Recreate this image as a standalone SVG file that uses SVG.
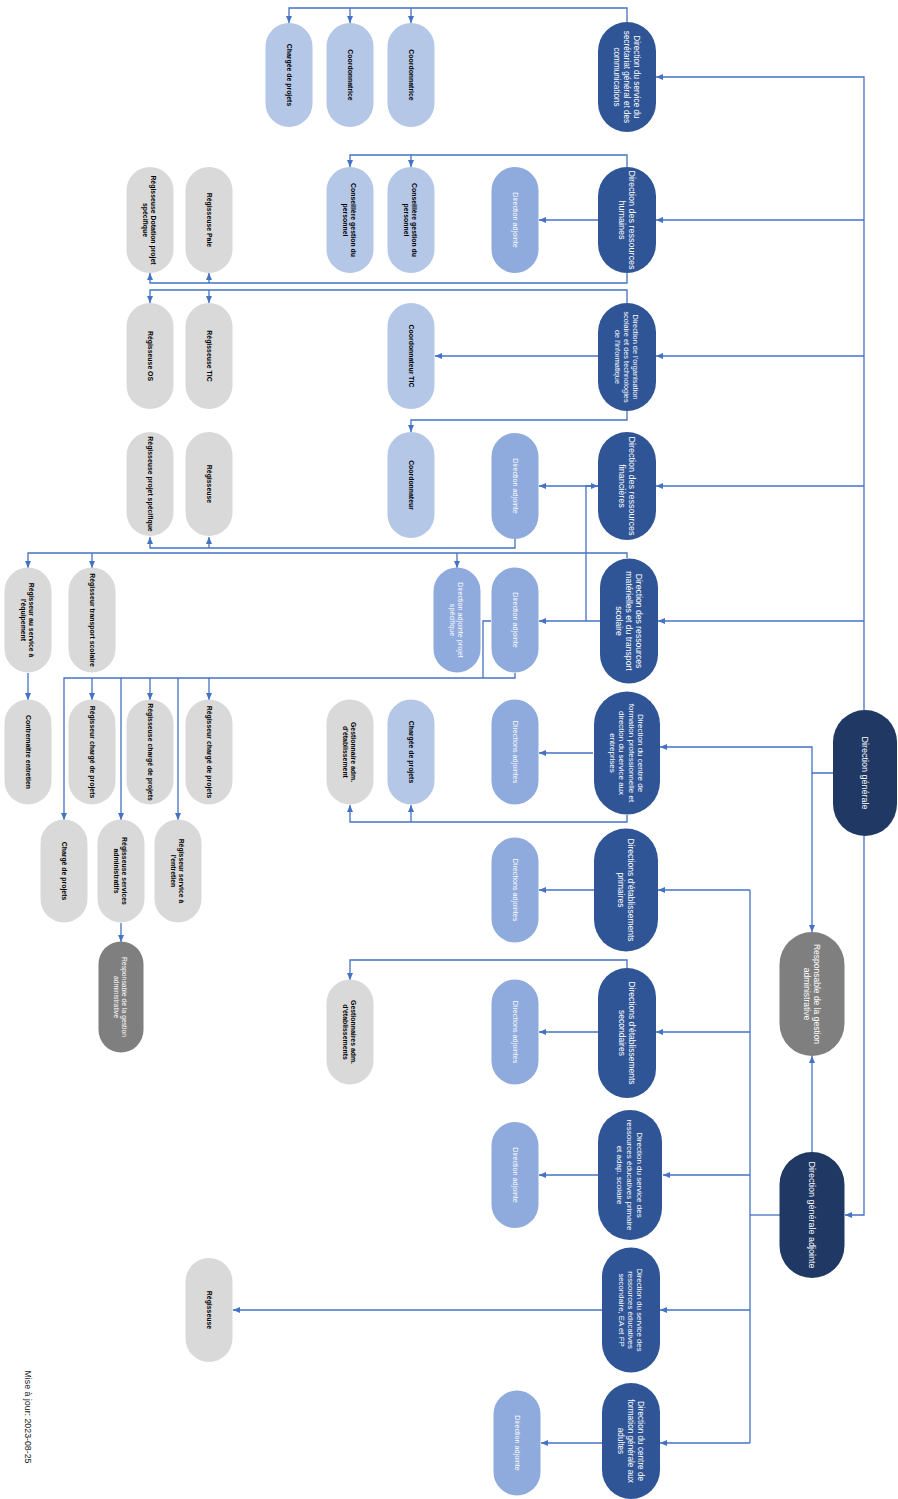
<svg xmlns="http://www.w3.org/2000/svg" width="898" height="1499" viewBox="0 0 898 1499">
<defs>
<marker id="ar" viewBox="0 0 7 6" refX="7" refY="3" markerWidth="7" markerHeight="6" markerUnits="userSpaceOnUse" orient="auto"><path d="M0,0 L7,3 L0,6 z" fill="#4472C4"/></marker>
</defs>
<style>
.dir{fill:#2F5597}
.top{fill:#1F3864}
.da{fill:#8FAADC}
.lb{fill:#B4C7E7}
.gr{fill:#D9D9D9}
.dg{fill:#7F7F7F}
text{font-family:"Liberation Sans",Arial,sans-serif;text-anchor:middle;dominant-baseline:central}
.tw{fill:#FFFFFF}
.tb{fill:#000000;font-weight:bold;font-size:6.9px}
.tda{fill:#FFFFFF;font-size:7.2px}
.c path{fill:none;stroke:#4472C4;stroke-width:1.3}
.c .a{marker-end:url(#ar)}
</style>
<rect width="898" height="1499" fill="#FFFFFF"/>

<g class="c" id="connectors">
<path d="M864,710 V77 H656" class="a"/>
<path d="M864,220 H656" class="a"/>
<path d="M864,356 H656" class="a"/>
<path d="M864,486 H656" class="a"/>
<path d="M864,621 H658" class="a"/>
<path d="M833,773 H812 V747 H660" class="a"/>
<path d="M812,773 V932" class="a"/>
<path d="M864,836 V1215 H845" class="a"/>
<path d="M812,1152 V1056" class="a"/>
<path d="M780,1215 H750"/>
<path d="M750,890 V1443"/>
<path d="M750,890 H658" class="a"/>
<path d="M750,1032 H656" class="a"/>
<path d="M750,1175 H663" class="a"/>
<path d="M750,1310 H660" class="a"/>
<path d="M750,1443 H660" class="a"/>
<path d="M627,22 V8 H289 V23" class="a"/>
<path d="M350,8 V23" class="a"/>
<path d="M411,8 V23" class="a"/>
<path d="M627,167 V155 H350 V167" class="a"/>
<path d="M411,155 V167" class="a"/>
<path d="M598,220 H539" class="a"/>
<path d="M627,273 V283 H150 V273" class="a"/>
<path d="M209,283 V273" class="a"/>
<path d="M627,303 V290 H150 V303" class="a"/>
<path d="M209,290 V303" class="a"/>
<path d="M598,356 H435" class="a"/>
<path d="M627,411 V420 H411 V432" class="a"/>
<path d="M598,486 H539" class="a"/>
<path d="M586,621 V486 H598" class="a"/>
<path d="M515,539 V548 H150 V537" class="a"/>
<path d="M209,548 V537" class="a"/>
<path d="M627,558 V553 H28 V568" class="a"/>
<path d="M92,553 V568" class="a"/>
<path d="M457,553 V568" class="a"/>
<path d="M600,621 H539" class="a"/>
<path d="M515,673 V678 H64 V820" class="a"/>
<path d="M491,621 H483 V678"/>
<path d="M92,678 V700" class="a"/>
<path d="M150,678 V700" class="a"/>
<path d="M209,678 V700" class="a"/>
<path d="M121,678 V820" class="a"/>
<path d="M178,678 V820" class="a"/>
<path d="M28,673 V700" class="a"/>
<path d="M121,923 V942" class="a"/>
<path d="M593,753 H539" class="a"/>
<path d="M627,815 V822 H350 V805" class="a"/>
<path d="M411,822 V805" class="a"/>
<path d="M594,890 H539" class="a"/>
<path d="M627,968 V960 H350 V980" class="a"/>
<path d="M598,1032 H539" class="a"/>
<path d="M598,1175 H539" class="a"/>
<path d="M602,1310 H233" class="a"/>
<path d="M602,1443 H541" class="a"/>
</g>

<g id="n-dg" transform="translate(865,773) rotate(90)"><rect x="-63" y="-32" width="126" height="64" rx="32" class="top"/><text class="tw" font-size="9" y="0">Direction générale</text></g>
<g id="n-resp" transform="translate(812,994) rotate(90)"><rect x="-62" y="-32.5" width="124" height="65" rx="32.5" class="dg"/><text class="tw" font-size="8.5"><tspan x="0" y="-5.1">Responsable de la gestion</tspan><tspan x="0" y="5.1">administrative</tspan></text></g>
<g id="n-dga" transform="translate(812,1215) rotate(90)"><rect x="-63" y="-32.5" width="126" height="65" rx="32.5" class="top"/><text class="tw" font-size="9" y="0">Direction générale adjointe</text></g>

<g id="n-dssg" transform="translate(627,77) rotate(90)"><rect x="-55" y="-29" width="110" height="58" rx="29" class="dir"/><text class="tw" font-size="8.2"><tspan x="0" y="-9.8">Direction du service du</tspan><tspan x="0" y="0">secrétariat général et des</tspan><tspan x="0" y="9.8">communications</tspan></text></g>
<g id="n-drh" transform="translate(627,220) rotate(90)"><rect x="-53" y="-29" width="106" height="58" rx="29" class="dir"/><text class="tw" font-size="9"><tspan x="0" y="-5.4">Direction des ressources</tspan><tspan x="0" y="5.4">humaines</tspan></text></g>
<g id="n-dost" transform="translate(627,357) rotate(90)"><rect x="-54" y="-29" width="108" height="58" rx="29" class="dir"/><text class="tw" font-size="7.4"><tspan x="0" y="-8.8">Direction de l'organisation</tspan><tspan x="0" y="0">scolaire et des technologies</tspan><tspan x="0" y="8.8">de l'informatique</tspan></text></g>
<g id="n-drf" transform="translate(627,486) rotate(90)"><rect x="-54" y="-29" width="108" height="58" rx="29" class="dir"/><text class="tw" font-size="9"><tspan x="0" y="-5.4">Direction des ressources</tspan><tspan x="0" y="5.4">financières</tspan></text></g>
<g id="n-drmt" transform="translate(629,621) rotate(90)"><rect x="-62.5" y="-29" width="125" height="58" rx="29" class="dir"/><text class="tw" font-size="8.6"><tspan x="0" y="-10.3">Direction des ressources</tspan><tspan x="0" y="0">matérielles et du transport</tspan><tspan x="0" y="10.3">scolaire</tspan></text></g>
<g id="n-dcfp" transform="translate(627,753) rotate(90)"><rect x="-61.5" y="-33" width="123" height="66" rx="33" class="dir"/><text class="tw" font-size="8"><tspan x="0" y="-14.4">Direction du centre de</tspan><tspan x="0" y="-4.8">formation professionnelle et</tspan><tspan x="0" y="4.8">direction du service aux</tspan><tspan x="0" y="14.4">entreprises</tspan></text></g>
<g id="n-dep" transform="translate(626,890) rotate(90)"><rect x="-61.5" y="-32" width="123" height="64" rx="32" class="dir"/><text class="tw" font-size="8.5"><tspan x="0" y="-5.1">Directions d'établissements</tspan><tspan x="0" y="5.1">primaires</tspan></text></g>
<g id="n-des" transform="translate(627,1033) rotate(90)"><rect x="-65" y="-29" width="130" height="58" rx="29" class="dir"/><text class="tw" font-size="8.5"><tspan x="0" y="-5.1">Directions d'établissements</tspan><tspan x="0" y="5.1">secondaires</tspan></text></g>
<g id="n-dsrep" transform="translate(630,1175) rotate(90)"><rect x="-65" y="-32" width="130" height="64" rx="32" class="dir"/><text class="tw" font-size="8"><tspan x="0" y="-9.6">Direction du service des</tspan><tspan x="0" y="0">ressources éducatives primaire</tspan><tspan x="0" y="9.6">et adap. scolaire</tspan></text></g>
<g id="n-dsres" transform="translate(631,1310) rotate(90)"><rect x="-62.5" y="-29" width="125" height="58" rx="29" class="dir"/><text class="tw" font-size="7.8"><tspan x="0" y="-9.4">Direction du service des</tspan><tspan x="0" y="0">ressources éducatives</tspan><tspan x="0" y="9.4">secondaire, EA et FP</tspan></text></g>
<g id="n-dcfga" transform="translate(631,1441) rotate(90)"><rect x="-58" y="-29" width="116" height="58" rx="29" class="dir"/><text class="tw" font-size="8.2"><tspan x="0" y="-9.8">Direction du centre de</tspan><tspan x="0" y="0">formation générale aux</tspan><tspan x="0" y="9.8">adultes</tspan></text></g>

<g id="n-cp1" transform="translate(289,75) rotate(90)"><rect x="-52" y="-23.5" width="104" height="47" rx="23.5" class="lb"/><text class="tb" y="0">Chargée de projets</text></g>
<g id="n-co1" transform="translate(350,75) rotate(90)"><rect x="-52" y="-23.5" width="104" height="47" rx="23.5" class="lb"/><text class="tb" y="0">Coordonnatrice</text></g>
<g id="n-co2" transform="translate(411,75) rotate(90)"><rect x="-52" y="-23.5" width="104" height="47" rx="23.5" class="lb"/><text class="tb" y="0">Coordonnatrice</text></g>

<g id="n-da-drh" transform="translate(515,220) rotate(90)"><rect x="-53" y="-23.5" width="106" height="47" rx="23.5" class="da"/><text class="tda" y="0">Direction adjointe</text></g>
<g id="n-cg1" transform="translate(411,220) rotate(90)"><rect x="-53" y="-23.5" width="106" height="47" rx="23.5" class="lb"/><text class="tb"><tspan x="0" y="-4.2">Conseillère gestion du</tspan><tspan x="0" y="4.2">personnel</tspan></text></g>
<g id="n-cg2" transform="translate(350,220) rotate(90)"><rect x="-53" y="-23.5" width="106" height="47" rx="23.5" class="lb"/><text class="tb"><tspan x="0" y="-4.2">Conseillère gestion du</tspan><tspan x="0" y="4.2">personnel</tspan></text></g>
<g id="n-paie" transform="translate(209,220) rotate(90)"><rect x="-53" y="-23.5" width="106" height="47" rx="23.5" class="gr"/><text class="tb" y="0">Régisseuse Paie</text></g>
<g id="n-dot" transform="translate(150,220) rotate(90)"><rect x="-53" y="-23.5" width="106" height="47" rx="23.5" class="gr"/><text class="tb"><tspan x="0" y="-4.2">Régisseuse Dotation projet</tspan><tspan x="0" y="4.2">spécifique</tspan></text></g>

<g id="n-ctic" transform="translate(411,356) rotate(90)"><rect x="-53" y="-23.5" width="106" height="47" rx="23.5" class="lb"/><text class="tb" y="0">Coordonnateur TIC</text></g>
<g id="n-tic" transform="translate(209,356) rotate(90)"><rect x="-53" y="-23.5" width="106" height="47" rx="23.5" class="gr"/><text class="tb" y="0">Régisseuse TIC</text></g>
<g id="n-os" transform="translate(150,356) rotate(90)"><rect x="-53" y="-23.5" width="106" height="47" rx="23.5" class="gr"/><text class="tb" y="0">Régisseuse OS</text></g>

<g id="n-da-drf" transform="translate(515,486) rotate(90)"><rect x="-53" y="-23.5" width="106" height="47" rx="23.5" class="da"/><text class="tda" y="0">Direction adjointe</text></g>
<g id="n-coord" transform="translate(411,485) rotate(90)"><rect x="-53" y="-23.5" width="106" height="47" rx="23.5" class="lb"/><text class="tb" y="0">Coordonnateur</text></g>
<g id="n-reg1" transform="translate(209,484) rotate(90)"><rect x="-52" y="-23.5" width="104" height="47" rx="23.5" class="gr"/><text class="tb" y="0">Régisseuse</text></g>
<g id="n-regps" transform="translate(150,484) rotate(90)"><rect x="-52" y="-23.5" width="104" height="47" rx="23.5" class="gr"/><text class="tb" y="0">Régisseuse projet spécifique</text></g>

<g id="n-da-drmt" transform="translate(515,620) rotate(90)"><rect x="-52.5" y="-23.5" width="105" height="47" rx="23.5" class="da"/><text class="tda" y="0">Direction adjointe</text></g>
<g id="n-da-ps" transform="translate(457,620) rotate(90)"><rect x="-52.5" y="-23.5" width="105" height="47" rx="23.5" class="da"/><text class="tda"><tspan x="0" y="-4.3">Direction adjointe projet</tspan><tspan x="0" y="4.3">spécifique</tspan></text></g>
<g id="n-rts" transform="translate(92,620) rotate(90)"><rect x="-52.5" y="-23.5" width="105" height="47" rx="23.5" class="gr"/><text class="tb" y="0">Régisseur transport scolaire</text></g>
<g id="n-rse" transform="translate(28,620) rotate(90)"><rect x="-52.5" y="-23.5" width="105" height="47" rx="23.5" class="gr"/><text class="tb"><tspan x="0" y="-4.2">Régisseur au service à</tspan><tspan x="0" y="4.2">l'équipement</tspan></text></g>

<g id="n-da-dcfp" transform="translate(515,752) rotate(90)"><rect x="-52.5" y="-23.5" width="105" height="47" rx="23.5" class="da"/><text class="tda" y="0">Directions adjointes</text></g>
<g id="n-cp2" transform="translate(411,752) rotate(90)"><rect x="-52.5" y="-23.5" width="105" height="47" rx="23.5" class="lb"/><text class="tb" y="0">Chargée de projets</text></g>
<g id="n-gae" transform="translate(350,752) rotate(90)"><rect x="-52.5" y="-23.5" width="105" height="47" rx="23.5" class="gr"/><text class="tb"><tspan x="0" y="-4.2">Gestionnaire adm.</tspan><tspan x="0" y="4.2">d'établissement</tspan></text></g>
<g id="n-rcp1" transform="translate(209,752) rotate(90)"><rect x="-52.5" y="-23.5" width="105" height="47" rx="23.5" class="gr"/><text class="tb" y="0">Régisseur chargé de projets</text></g>
<g id="n-rcp2" transform="translate(150,752) rotate(90)"><rect x="-52.5" y="-23.5" width="105" height="47" rx="23.5" class="gr"/><text class="tb" y="0">Régisseuse chargé de projets</text></g>
<g id="n-rcp3" transform="translate(92,752) rotate(90)"><rect x="-52.5" y="-23.5" width="105" height="47" rx="23.5" class="gr"/><text class="tb" y="0">Régisseur chargé de projets</text></g>
<g id="n-ce" transform="translate(28,752) rotate(90)"><rect x="-52.5" y="-23.5" width="105" height="47" rx="23.5" class="gr"/><text class="tb" y="0">Contremaître entretien</text></g>

<g id="n-rsen" transform="translate(178,871) rotate(90)"><rect x="-51.5" y="-23.5" width="103" height="47" rx="23.5" class="gr"/><text class="tb"><tspan x="0" y="-4.2">Régisseur service à</tspan><tspan x="0" y="4.2">l'entretien</tspan></text></g>
<g id="n-rsa" transform="translate(121,871) rotate(90)"><rect x="-51.5" y="-23.5" width="103" height="47" rx="23.5" class="gr"/><text class="tb"><tspan x="0" y="-4.2">Régisseuse services</tspan><tspan x="0" y="4.2">administratifs</tspan></text></g>
<g id="n-cp3" transform="translate(64,871) rotate(90)"><rect x="-51.5" y="-23.5" width="103" height="47" rx="23.5" class="gr"/><text class="tb" y="0">Chargé de projets</text></g>
<g id="n-resp2" transform="translate(121,997) rotate(90)"><rect x="-55.5" y="-22.5" width="111" height="45" rx="22.5" class="dg"/><text class="tw" font-size="6.8"><tspan x="0" y="-4.2">Responsable de la gestion</tspan><tspan x="0" y="4.2">administrative</tspan></text></g>

<g id="n-da-dep" transform="translate(515,890) rotate(90)"><rect x="-52.5" y="-23.5" width="105" height="47" rx="23.5" class="da"/><text class="tda" y="0">Directions adjointes</text></g>
<g id="n-da-des" transform="translate(515,1032) rotate(90)"><rect x="-52.5" y="-23.5" width="105" height="47" rx="23.5" class="da"/><text class="tda" y="0">Directions adjointes</text></g>
<g id="n-gaes" transform="translate(350,1032) rotate(90)"><rect x="-52.5" y="-23.5" width="105" height="47" rx="23.5" class="gr"/><text class="tb"><tspan x="0" y="-4.2">Gestionnaires adm.</tspan><tspan x="0" y="4.2">d'établissements</tspan></text></g>
<g id="n-da-dsrep" transform="translate(515,1175) rotate(90)"><rect x="-53" y="-23.5" width="106" height="47" rx="23.5" class="da"/><text class="tda" y="0">Direction adjointe</text></g>
<g id="n-reg2" transform="translate(209,1310) rotate(90)"><rect x="-52" y="-23.5" width="104" height="47" rx="23.5" class="gr"/><text class="tb" y="0">Régisseuse</text></g>
<g id="n-da-dcfga" transform="translate(517,1443) rotate(90)"><rect x="-52.5" y="-23.5" width="105" height="47" rx="23.5" class="da"/><text class="tda" y="0">Direction adjointe</text></g>

<text id="footer" transform="translate(28,1417) rotate(90)" font-size="8.8" fill="#1a1a1a" y="0">Mise à jour: 2023-08-25</text>
</svg>
